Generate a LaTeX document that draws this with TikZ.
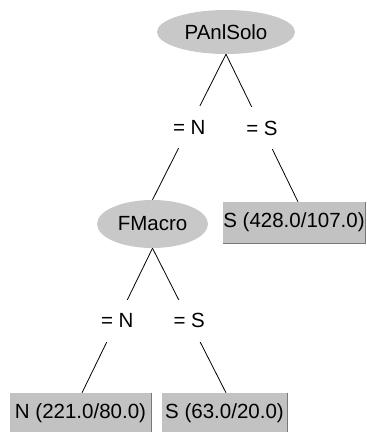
\documentclass[tikz,border=0pt]{standalone}
\usepackage{fontspec}
\setmainfont{Liberation Sans}
\usetikzlibrary{shapes.geometric}
\definecolor{ellfill}{RGB}{200,200,200}
\definecolor{boxfill}{RGB}{194,194,194}
\definecolor{boxedge}{RGB}{120,120,120}
\begin{document}
\begin{tikzpicture}[x=1pt,y=-1pt,
  every node/.style={font=\fontsize{20.5}{23}\selectfont},
  inner/.style={ellipse,fill=ellfill,inner sep=0pt},
  leaf/.style={rectangle,fill=boxfill,inner sep=0pt},
  lbl/.style={fill=white,inner xsep=3pt,inner ysep=0pt,minimum height=42pt},
  edge/.style={draw=black,line width=0.8pt}]
\useasboundingbox (0,0) rectangle (367,432);
\clip (0,0) rectangle (367,432);
\node[inner,minimum width=138pt,minimum height=44pt] (root) at (226,32) {PAnlSolo};
\node[inner,minimum width=111pt,minimum height=48pt] (fmacro) at (152.5,224) {FMacro};
\node[leaf,minimum width=142pt,minimum height=41pt] (s428) at (294,222.5) {S (428.0/107.0)};
\node[leaf,minimum width=141pt,minimum height=40pt] (n221) at (80.5,413) {N (221.0/80.0)};
\node[leaf,minimum width=125pt,minimum height=40pt] (s63) at (224.5,413) {S (63.0/20.0)};
\foreach \b in {s428,n221,s63}
  \draw[boxedge,line width=1pt] (\b.north east) -- (\b.south east) -- (\b.south west);
\draw[edge] (root.south) -- node[lbl] (e1) {= N} (fmacro.north);
\draw[edge] (root.south) -- node[lbl] (e2) {= S} ([xshift=4pt]s428.north);
\draw[edge] (fmacro.south) -- node[lbl] (e3) {= N} ([xshift=1.5pt]n221.north);
\draw[edge] (fmacro.south) -- node[lbl] (e4) {= S} ([xshift=1.5pt]s63.north);
\end{tikzpicture}
\end{document}
